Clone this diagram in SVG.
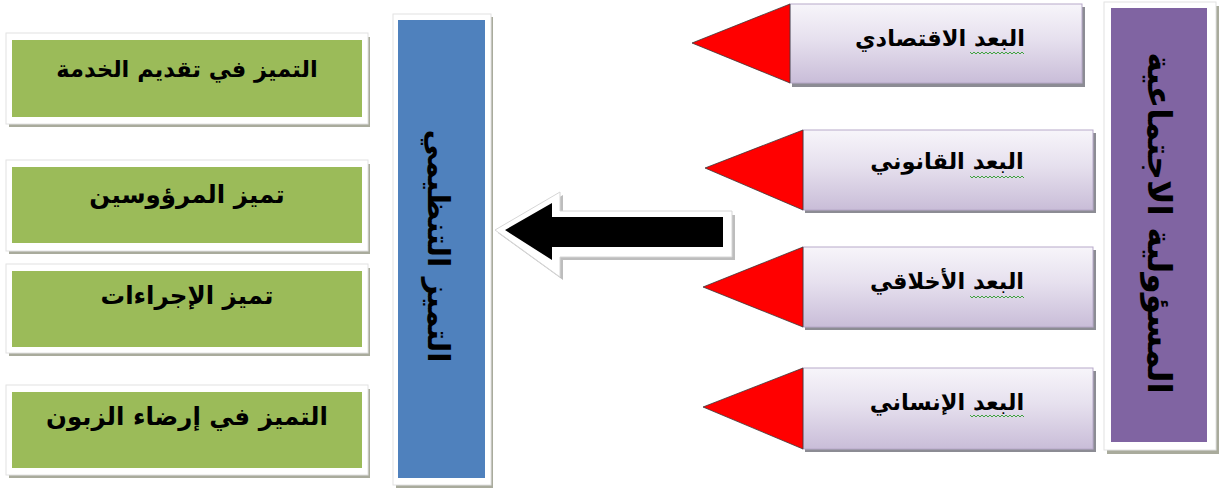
<svg xmlns="http://www.w3.org/2000/svg" width="1219" height="488" viewBox="0 0 1219 488">
  <defs>
    <linearGradient id="lav" x1="0" y1="0" x2="0" y2="1">
      <stop offset="0" stop-color="#f7f5fa"/>
      <stop offset="0.45" stop-color="#e6e0ee"/>
      <stop offset="1" stop-color="#c9bdd8"/>
    </linearGradient>
    <path id="squig" d="M0,0 l2,2 l2,-2 l2,2 l2,-2 l2,2 l2,-2 l2,2 l2,-2 l2,2 l2,-2 l2,2 l2,-2 l2,2 l2,-2 l2,2 l2,-2 l2,2 l2,-2 l2,2 l2,-2 l2,2 l2,-2 l2,2 l2,-2 l2,2 l2,-2 l2,2"/>
  </defs>
  <style>
    .frame { fill: #ffffff; stroke: #e2e2e2; stroke-width: 1; }
    .shadow { fill: #a9ab9c; }
    .green { fill: #9bbb59; }
    .blue { fill: #4f81bd; }
    .purple { fill: #8064a2; }
    .lav { fill: url(#lav); stroke: #b7a9c9; stroke-width: 1; }
    .lavshadow { fill: #8c8c94; }
    .tri { fill: #ff0000; stroke: #3a3a3a; stroke-width: 0.8; stroke-linejoin: miter; }
    .lbl { font-family: "DejaVu Sans", "Noto Sans", sans-serif; font-weight: bold; fill: #000; text-anchor: middle; direction: rtl; }
    .dim { font-size: 22.5px; }
    .squig { fill: none; stroke: #3fa33f; stroke-width: 1; }
  </style>

  <rect width="1219" height="488" fill="#ffffff"/>

  <!-- outcome boxes (left column) -->
  <g id="node-service">
    <rect class="shadow" x="9" y="37" width="361" height="90"/>
    <rect class="frame" x="6" y="33" width="362" height="91"/>
    <rect class="green" x="12" y="40" width="350" height="77"/>
    <text class="lbl" x="187" y="77" font-size="22.5">التميز في تقديم الخدمة</text>
  </g>
  <g id="node-staff">
    <rect class="shadow" x="9" y="164" width="361" height="90"/>
    <rect class="frame" x="6" y="160" width="362" height="91"/>
    <rect class="green" x="12" y="167" width="350" height="76"/>
    <text class="lbl" x="187" y="203" font-size="24.5">تميز المرؤوسين</text>
  </g>
  <g id="node-procedures">
    <rect class="shadow" x="9" y="268" width="361" height="88"/>
    <rect class="frame" x="6" y="264" width="362" height="89"/>
    <rect class="green" x="12" y="271" width="350" height="76"/>
    <text class="lbl" x="187" y="304" font-size="24.5">تميز الإجراءات</text>
  </g>
  <g id="node-customer">
    <rect class="shadow" x="9" y="389" width="361" height="89"/>
    <rect class="frame" x="6" y="385" width="362" height="90"/>
    <rect class="green" x="12" y="392" width="350" height="76"/>
    <text class="lbl" x="187" y="425" font-size="24.5">التميز في إرضاء الزبون</text>
  </g>

  <!-- organisational excellence bar -->
  <g id="node-org-excellence">
    <rect class="shadow" x="396" y="17" width="97" height="471"/>
    <rect class="frame" x="393" y="14" width="98" height="471"/>
    <rect class="blue" x="398" y="20" width="87" height="458"/>
    <text class="lbl" font-size="30" transform="translate(428,246) rotate(90)" x="0" y="0">التميز التنظيمي</text>
  </g>

  <!-- social responsibility bar -->
  <g id="node-social-resp">
    <rect class="shadow" x="1107" y="6" width="112" height="448"/>
    <rect class="frame" x="1104" y="2" width="112" height="448"/>
    <rect class="purple" x="1111" y="8" width="96" height="434"/>
    <text class="lbl" font-size="33" transform="translate(1148,223) rotate(90)" x="0" y="0">المسؤولية الاجتماعية</text>
  </g>

  <!-- dimension boxes (right column) -->
  <g id="node-economic">
    <rect class="lavshadow" x="792" y="7" width="293" height="80"/>
    <rect class="lav" x="790" y="4" width="292" height="79"/>
    <polygon class="tri" points="692,43 790,4 790,83"/>
    <text class="lbl dim" x="940" y="46">البعد الاقتصادي</text>
    <use href="#squig" class="squig" x="970" y="52"/>
  </g>
  <g id="node-legal">
    <rect class="lavshadow" x="805" y="133" width="291" height="80"/>
    <rect class="lav" x="803" y="130" width="290" height="80"/>
    <polygon class="tri" points="705,168 803,130 803,210"/>
    <text class="lbl dim" x="947" y="169">البعد القانوني</text>
    <use href="#squig" class="squig" x="970" y="176"/>
  </g>
  <g id="node-ethical">
    <rect class="lavshadow" x="805" y="250" width="291" height="80"/>
    <rect class="lav" x="803" y="247" width="290" height="80"/>
    <polygon class="tri" points="703,287 803,247 803,327"/>
    <text class="lbl dim" x="947" y="289">البعد الأخلاقي</text>
    <use href="#squig" class="squig" x="970" y="296"/>
  </g>
  <g id="node-human">
    <rect class="lavshadow" x="805" y="371" width="291" height="81"/>
    <rect class="lav" x="803" y="368" width="290" height="81"/>
    <polygon class="tri" points="703,407 803,368 803,449"/>
    <text class="lbl dim" x="947" y="410">البعد الإنساني</text>
    <use href="#squig" class="squig" x="970" y="415"/>
  </g>

  <!-- connectors -->
  <g id="connectors">
    <!-- block arrow pointing to the organisational excellence bar -->
    <polygon points="498,233 563,195 563,215 735,215 735,260 563,260 563,280" fill="#bdbdbd"/>
    <polygon points="495,230 560,192 560,211 732,211 732,257 560,257 560,277" fill="#ffffff" stroke="#d6d6d6" stroke-width="1"/>
    <polygon points="505,230 552,203 552,217 723,217 723,247 552,247 552,260" fill="#000000"/>
  </g>
</svg>
